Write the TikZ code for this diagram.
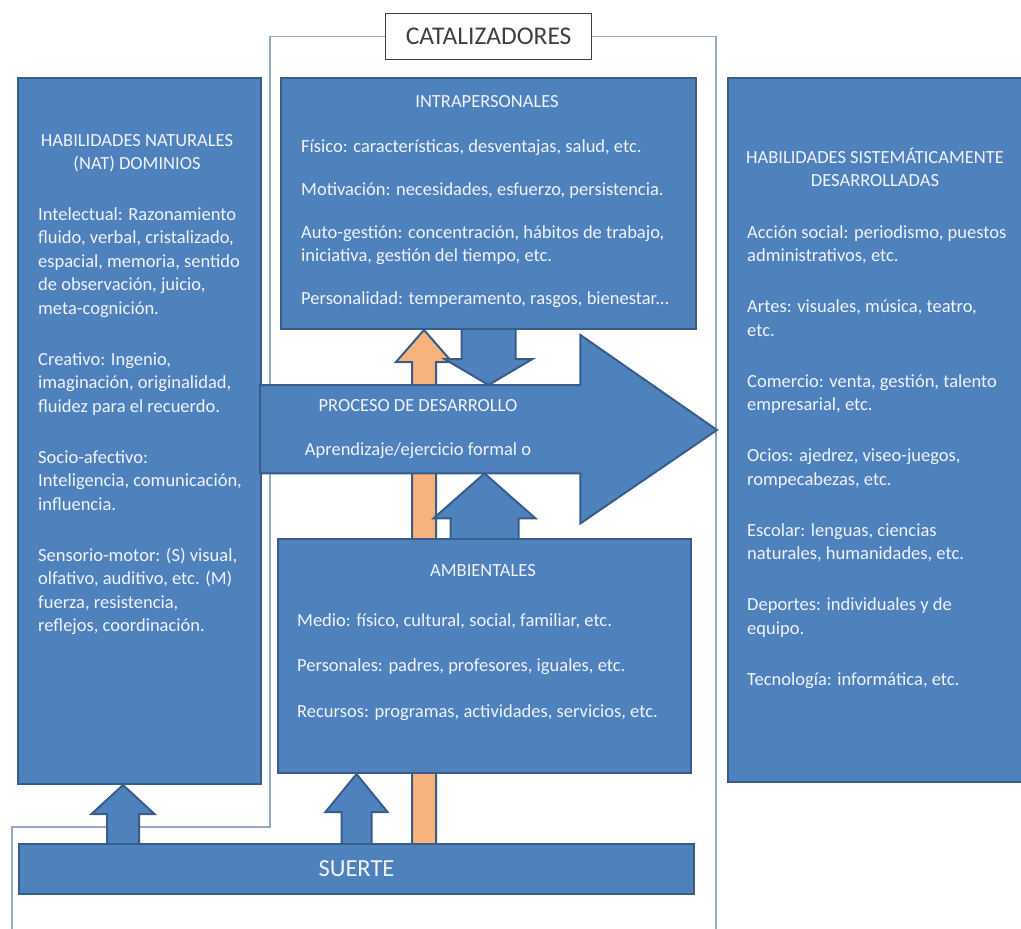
\documentclass[tikz,border=0pt]{standalone}
\usepackage{fontspec}
\setmainfont{Carlito}
\usetikzlibrary{calc}
\definecolor{boxblue}{HTML}{4F81BD}
\definecolor{boxedge}{HTML}{385D8A}
\definecolor{orng}{HTML}{F8B37C}
\definecolor{thinline}{HTML}{95A9C4}
\definecolor{txt}{HTML}{F0F3F9}
\definecolor{catgray}{HTML}{404040}
\tikzset{
  blkedge/.style={draw=boxedge, line width=2pt, line join=miter},
  bluebox/.style={fill=boxblue, blkedge, inner sep=0pt, anchor=north west},
  txtnode/.style={text=txt, inner sep=0pt, font=\fontsize{18.5}{23.5}\selectfont},
  thin/.style={draw=thinline, line width=1.3pt},
}
\newcommand\blkup[6]{%
  \fill[#6] let \p1=(#1), \p2=(#2) in
    (\x2-#3pt,\y1) -- (\x2-#3pt,\y2-#5pt) -- (\x2-#4pt,\y2-#5pt) -- (\x2,\y2)
    -- (\x2+#4pt,\y2-#5pt) -- (\x2+#3pt,\y2-#5pt) -- (\x2+#3pt,\y1) -- cycle;
  \draw[blkedge] let \p1=(#1), \p2=(#2) in
    (\x2-#3pt,\y1) -- (\x2-#3pt,\y2-#5pt) -- (\x2-#4pt,\y2-#5pt) -- (\x2,\y2)
    -- (\x2+#4pt,\y2-#5pt) -- (\x2+#3pt,\y2-#5pt) -- (\x2+#3pt,\y1);
}
\newcommand\blkdown[6]{%
  \fill[#6] let \p1=(#1), \p2=(#2) in
    (\x2-#3pt,\y1) -- (\x2-#3pt,\y2+#5pt) -- (\x2-#4pt,\y2+#5pt) -- (\x2,\y2)
    -- (\x2+#4pt,\y2+#5pt) -- (\x2+#3pt,\y2+#5pt) -- (\x2+#3pt,\y1) -- cycle;
  \draw[blkedge] let \p1=(#1), \p2=(#2) in
    (\x2-#3pt,\y1) -- (\x2-#3pt,\y2+#5pt) -- (\x2-#4pt,\y2+#5pt) -- (\x2,\y2)
    -- (\x2+#4pt,\y2+#5pt) -- (\x2+#3pt,\y2+#5pt) -- (\x2+#3pt,\y1);
}
\begin{document}
\begin{tikzpicture}[x=1pt,y=-1pt]
\useasboundingbox (0,0) rectangle (1021,929);
\clip (0,0) rectangle (1021,929);
\fill[white] (0,0) rectangle (1021,929);

% CATALIZADORES label and its bracket lines
\node[draw=catgray, line width=1.3pt, fill=white, minimum width=206pt, minimum height=46pt,
      anchor=north west, text=catgray, inner sep=0pt, font=\fontsize{25.5}{30}\selectfont]
      (cat) at (385,13) {CATALIZADORES};
\coordinate (lcorner) at (270,827);
\coordinate (lend) at (12,940);
\coordinate (rend) at (716,940);
\draw[thin] (cat.west) -| (lcorner) -| (lend);
\draw[thin] (cat.east) -| (rend);

% named reference coordinates for arrow axes
\coordinate (ox) at (424,0);
\coordinate (lx) at (123,0);

% boxes (positions only)
\node[bluebox, draw=none, fill=none, minimum width=243pt, minimum height=706pt] (natbox) at (17,77) {};
\node[bluebox, draw=none, fill=none, minimum width=415pt, minimum height=251pt] (intra) at (280,77) {};
\node[bluebox, draw=none, fill=none, minimum width=675pt, minimum height=50pt] (suerte) at (18,843) {};
\node[bluebox, draw=none, fill=none, minimum width=413pt, minimum height=234pt] (amb) at (277,538) {};

% orange arrow behind boxes
\blkup{ox |- suerte.north}{ox |- intra.south}{12}{28}{32}{fill=orng}

% boxes drawn
\node[bluebox, minimum width=243pt, minimum height=706pt] (natboxd) at (natbox.north west) {};
\node[bluebox, minimum width=415pt, minimum height=251pt] (intrad) at (intra.north west) {};
\node[bluebox, minimum width=300pt, minimum height=704pt] (sist) at (727,77) {};
\node[bluebox, minimum width=413pt, minimum height=234pt] (ambd) at (amb.north west) {};
\node[bluebox, minimum width=675pt, minimum height=50pt, text=txt,
      font=\fontsize{24.5}{28}\selectfont] (suerted) at (suerte.north west) {SUERTE};

% process arrow (body + head)
\node[inner sep=0pt, minimum width=320pt, minimum height=88pt, anchor=north west] (proc) at (260,385) {};
\coordinate (proctip) at (717,430);

% block arrows
\blkup{lx |- suerte.north}{lx |- natbox.south}{16}{31.5}{29}{fill=boxblue}
\blkup{suerte.north}{suerte.north |- amb.south}{15}{31}{38}{fill=boxblue}
\blkdown{intra.south}{intra.south |- proc.north}{27}{44}{26}{fill=boxblue}
\blkup{amb.north}{amb.north |- proc.south}{34}{51}{45}{fill=boxblue}

\filldraw[fill=boxblue, blkedge] (proc.north west) -- (proc.north east) -- ([yshift=50pt]proc.north east)
  -- (proctip) -- ([yshift=-50pt]proc.south east) -- (proc.south east) -- (proc.south west) -- cycle;

% texts
\node[txtnode, anchor=base] (nattitle) at (137,146)
  {\begin{tabular}[t]{@{}c@{}}HABILIDADES NATURALES\\(NAT) DOMINIOS\end{tabular}};
\node[txtnode, anchor=base west] (natbody) at (38,220)
  {\begin{tabular}[t]{@{}l@{}}
   Intelectual: Razonamiento\\
   fluido, verbal, cristalizado,\\
   espacial, memoria, sentido\\
   de observación, juicio,\\
   meta-cognición.\\[27.5pt]
   Creativo: Ingenio,\\
   imaginación, originalidad,\\
   fluidez para el recuerdo.\\[27.5pt]
   Socio-afectivo:\\
   Inteligencia, comunicación,\\
   influencia.\\[27.5pt]
   Sensorio-motor: (S) visual,\\
   olfativo, auditivo, etc. (M)\\
   fuerza, resistencia,\\
   reflejos, coordinación.
  \end{tabular}};

\node[txtnode, anchor=base] (intratitle) at (487,107) {INTRAPERSONALES};
\node[txtnode, anchor=base west] (intrabody) at (301,152)
  {\begin{tabular}[t]{@{}l@{}}
   Físico: características, desventajas, salud, etc.\\[19.5pt]
   Motivación: necesidades, esfuerzo, persistencia.\\[19.5pt]
   Auto-gestión: concentración, hábitos de trabajo,\\
   iniciativa, gestión del tiempo, etc.\\[19.5pt]
   Personalidad: temperamento, rasgos, bienestar...
  \end{tabular}};

\node[txtnode, anchor=base] (proctext) at (418,411)
  {\begin{tabular}[t]{@{}c@{}}PROCESO DE DESARROLLO\\[20.5pt]Aprendizaje/ejercicio formal o\end{tabular}};

\node[txtnode, anchor=base] (ambtitle) at (483,576) {AMBIENTALES};
\node[txtnode, anchor=base west] (ambbody) at (297,626)
  {\begin{tabular}[t]{@{}l@{}}
   Medio: físico, cultural, social, familiar, etc.\\[22pt]
   Personales: padres, profesores, iguales, etc.\\[22pt]
   Recursos: programas, actividades, servicios, etc.
  \end{tabular}};

\node[txtnode, anchor=base] (sisttitle) at (875,163)
  {\begin{tabular}[t]{@{}c@{}}HABILIDADES SISTEMÁTICAMENTE\\DESARROLLADAS\end{tabular}};
\node[txtnode, anchor=base west] (sistbody) at (747,238)
  {\begin{tabular}[t]{@{}l@{}}
   Acción social: periodismo, puestos\\
   administrativos, etc.\\[27.5pt]
   Artes: visuales, música, teatro,\\
   etc.\\[27.5pt]
   Comercio: venta, gestión, talento\\
   empresarial, etc.\\[27.5pt]
   Ocios: ajedrez, viseo-juegos,\\
   rompecabezas, etc.\\[27.5pt]
   Escolar: lenguas, ciencias\\
   naturales, humanidades, etc.\\[27.5pt]
   Deportes: individuales y de\\
   equipo.\\[27.5pt]
   Tecnología: informática, etc.
  \end{tabular}};
\end{tikzpicture}
\end{document}
